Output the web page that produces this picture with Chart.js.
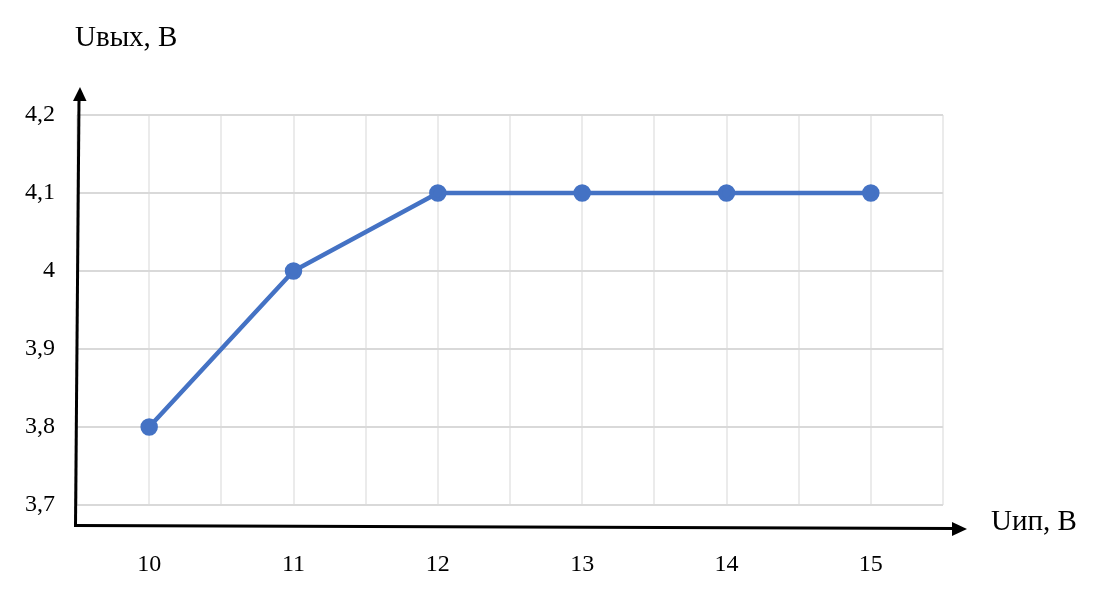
<!DOCTYPE html>
<html>
<head>
<meta charset="utf-8">
<script src="https://cdn.jsdelivr.net/npm/chart.js@4/dist/chart.umd.min.js"></script>
<style>
  html, body { margin: 0; padding: 0; background: #fff; }
  #wrap { width: 1109px; height: 604px; position: relative; }
</style>
</head>
<body>
<div id="wrap"><canvas id="chart"></canvas></div>
<script>
const supplyVoltage = [10, 11, 12, 13, 14, 15];
const outputVoltage = [3.8, 4.0, 4.1, 4.1, 4.1, 4.1];
const yAxisTitle = "Uвых, В";
const xAxisTitle = "Uип, В";

const serif = "'Liberation Serif', 'Times New Roman', serif";

// hand-drawn looking axes with arrows, plus the axis captions
const arrowAxes = {
  id: "arrowAxes",
  afterDraw(chart) {
    const ctx = chart.ctx;
    ctx.save();
    ctx.strokeStyle = "#000";
    ctx.fillStyle = "#000";
    ctx.lineWidth = 3;
    ctx.lineCap = "square";

    // y axis
    ctx.beginPath();
    ctx.moveTo(75.5, 525.5);
    ctx.lineTo(79, 100);
    ctx.stroke();
    ctx.beginPath();
    ctx.moveTo(80, 87);
    ctx.lineTo(86.5, 101);
    ctx.lineTo(73, 101);
    ctx.closePath();
    ctx.fill();

    // x axis
    ctx.beginPath();
    ctx.moveTo(75.5, 525.5);
    ctx.lineTo(953, 528.5);
    ctx.stroke();
    ctx.beginPath();
    ctx.moveTo(967, 529);
    ctx.lineTo(952, 522);
    ctx.lineTo(952, 536);
    ctx.closePath();
    ctx.fill();

    ctx.font = "29px " + serif;
    ctx.textAlign = "left";
    ctx.textBaseline = "alphabetic";
    ctx.fillText(yAxisTitle, 75, 46);
    ctx.fillText(xAxisTitle, 991, 530);
    ctx.restore();
  },
};

const ctx = document.getElementById("chart");
new Chart(ctx, {
  type: "line",
  data: {
    datasets: [
      {
        data: supplyVoltage.map((v, i) => ({ x: v, y: outputVoltage[i] })),
        borderColor: "#4472C4",
        backgroundColor: "#4472C4",
        borderWidth: 4.5,
        pointRadius: 6.5,
        pointHoverRadius: 6.5,
        tension: 0,
      },
    ],
  },
  options: {
    responsive: true,
    maintainAspectRatio: false,
    animation: false,
    layout: { padding: { left: 0, top: 115, right: 166, bottom: 0 } },
    plugins: { legend: { display: false }, tooltip: { enabled: false } },
    scales: {
      x: {
        type: "linear",
        min: 9.5,
        max: 15.5,
        afterFit(scale) {
          scale.height = 99;
        },
        grid: { color: "#ebebeb", lineWidth: 2, drawTicks: false },
        border: { display: false },
        ticks: {
          stepSize: 0.5,
          autoSkip: false,
          maxRotation: 0,
          padding: 45,
          color: "#000",
          font: { family: serif, size: 24 },
          callback: (v) => (Number.isInteger(v) ? String(v) : ""),
        },
      },
      y: {
        min: 3.7,
        max: 4.2,
        afterFit(scale) {
          scale.width = 77;
        },
        grid: { color: "#d9d9d9", lineWidth: 2, drawTicks: false },
        border: { display: false },
        ticks: {
          stepSize: 0.1,
          padding: 22,
          color: "#000",
          font: { family: serif, size: 24 },
          callback: (v) => String(Math.round(v * 10) / 10).replace(".", ","),
        },
      },
    },
  },
  plugins: [arrowAxes],
});
</script>
</body>
</html>
